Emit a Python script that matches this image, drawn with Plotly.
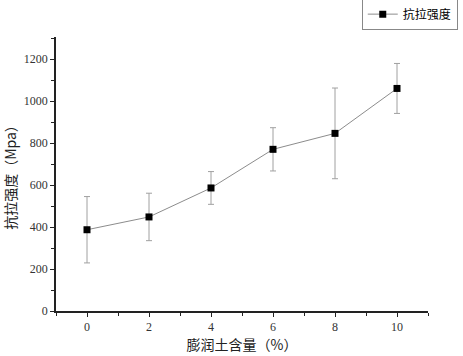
import plotly.graph_objects as go

content = [0, 2, 4, 6, 8, 10]
strength = [387, 448, 586, 770, 846, 1060]
err = [158, 113, 78, 103, 216, 119]
series_name = "抗拉强度"

fig = go.Figure()
fig.add_trace(go.Scatter(
    x=content, y=strength, name=series_name, mode="lines+markers",
    line=dict(color="#8c8c8c", width=1),
    marker=dict(symbol="square", size=7, color="black"),
    error_y=dict(type="data", array=err, visible=True, color="#a0a0a0", thickness=1, width=3),
))

serif = "Liberation Serif, Noto Sans CJK SC, serif"
cjk = "Noto Sans CJK SC, Liberation Serif, sans-serif"
fig.update_layout(
    width=463, height=356,
    margin=dict(l=56, r=35, t=37, b=45, autoexpand=False),
    paper_bgcolor="white", plot_bgcolor="white",
    font=dict(family=serif, size=12, color="black"),
    showlegend=True,
    legend=dict(x=1.08, y=1.14, xanchor="right", yanchor="top",
                bordercolor="#888", borderwidth=1, bgcolor="white",
                font=dict(size=12, family=cjk, color="black"),
                itemwidth=30, tracegroupgap=0),
    xaxis=dict(range=[-1, 11], tickvals=content, showgrid=False, zeroline=False,
               showline=True, linecolor="#222", linewidth=1.5,
               ticks="outside", ticklen=4, tickcolor="#222",
               tickfont=dict(family=serif, size=12, color="#333"),
               minor=dict(dtick=1, ticks="outside", ticklen=3, tickcolor="#222"),
               title=dict(text="膨润土含量（%）", font=dict(size=14, family=cjk, color="#222"), standoff=6)),
    yaxis=dict(range=[0, 1305], tickvals=[0, 200, 400, 600, 800, 1000, 1200], showgrid=False, zeroline=False,
               showline=True, linecolor="#222", linewidth=1.5,
               ticks="outside", ticklen=4, tickcolor="#222",
               tickfont=dict(family=serif, size=12, color="#333"),
               minor=dict(dtick=100, ticks="outside", ticklen=3, tickcolor="#222"),
               title=dict(text="抗拉强度（Mpa）", font=dict(size=14, family=cjk, color="#222"), standoff=6)),
)
fig.write_html("out.html", config={"displayModeBar": False},
               post_script="document.body.style.margin='0';document.body.style.overflow='hidden';")
